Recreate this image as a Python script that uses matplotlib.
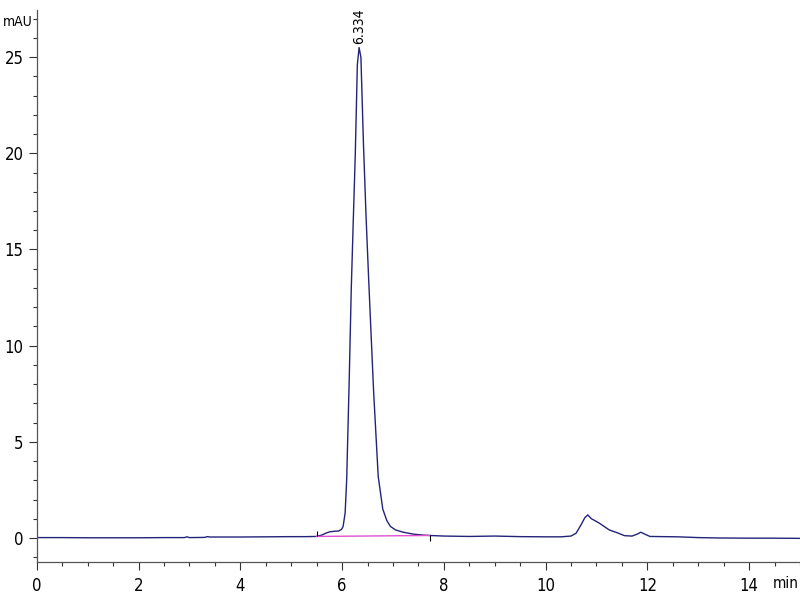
import matplotlib
matplotlib.use("Agg")
import matplotlib.pyplot as plt
from matplotlib.ticker import MultipleLocator

plt.rcParams['font.family'] = ['Liberation Sans Narrow', 'DejaVu Sans']
plt.rcParams['font.stretch'] = 'condensed'

# chromatogram trace (min, mAU)
time = [0, 0.5, 1, 1.5, 2, 2.5, 2.9, 2.95, 3.0, 3.3, 3.35, 3.4, 4, 4.5, 5, 5.3,
        5.5, 5.6, 5.7, 5.76, 5.85, 5.93, 5.99, 6.02, 6.06, 6.09, 6.14, 6.18, 6.22,
        6.26, 6.3, 6.334, 6.37, 6.42, 6.47, 6.52, 6.57, 6.62, 6.71, 6.8, 6.88,
        6.95, 7.05, 7.2, 7.4, 7.6, 7.72, 8.0, 8.5, 9.0, 9.5, 10.0, 10.3, 10.5,
        10.6, 10.7, 10.77, 10.83, 10.9, 10.97, 11.05, 11.15, 11.25, 11.4, 11.55,
        11.7, 11.8, 11.87, 11.95, 12.05, 12.3, 12.6, 13.0, 13.4, 14, 14.5, 15]
signal = [0.02, 0.02, 0.01, 0.01, 0.01, 0.02, 0.02, 0.06, 0.02, 0.03, 0.07, 0.05,
          0.05, 0.06, 0.07, 0.07, 0.08, 0.15, 0.27, 0.32, 0.35, 0.36, 0.45, 0.6,
          1.3, 3.0, 8.2, 12.9, 16.5, 20.0, 24.6, 25.5, 25.0, 20.5, 16.8, 13.6,
          10.6, 7.6, 3.2, 1.5, 0.9, 0.6, 0.42, 0.3, 0.2, 0.15, 0.13, 0.1, 0.08,
          0.1, 0.07, 0.06, 0.06, 0.1, 0.25, 0.7, 1.05, 1.2, 1.0, 0.9, 0.78, 0.6,
          0.42, 0.28, 0.12, 0.1, 0.2, 0.3, 0.2, 0.08, 0.07, 0.06, 0.02, 0.0,
          -0.01, -0.01, -0.02]

# integration baseline of the main peak
base_t = [5.5, 7.72]
base_y = [0.08, 0.13]
peak_rt = 6.334
peak_h = 25.6

fig = plt.figure(figsize=(8, 6), dpi=100)
ax = fig.add_axes([0.046, 0.0633, 0.954, 0.92])

ax.plot(time, signal, color='#23237a', lw=1.0)
ax.plot(base_t, base_y, color='#e050d0', lw=1.0)
ax.vlines(base_t[0], base_y[0], base_y[0] + 0.3, color='black', lw=0.8)
ax.vlines(base_t[1], base_y[1] - 0.3, base_y[1], color='black', lw=0.8)
ax.text(peak_rt, peak_h + 0.1, '%.3f' % peak_rt, rotation=90, ha='center',
        va='bottom', fontsize=10)

ax.set_xlim(0, 15)
ax.set_ylim(-1.25, 27.45)
ax.xaxis.set_major_locator(MultipleLocator(2))
ax.xaxis.set_minor_locator(MultipleLocator(0.5))
ax.yaxis.set_major_locator(MultipleLocator(5))
ax.yaxis.set_minor_locator(MultipleLocator(1))
ax.tick_params(which='major', length=6, width=0.8, labelsize=12, color='#333333')
ax.tick_params(which='minor', length=3, width=0.8, color='#333333')
ax.tick_params(axis='x', pad=5)

for s in ['top', 'right']:
    ax.spines[s].set_visible(False)
for s in ['left', 'bottom']:
    ax.spines[s].set_color('#555555')
    ax.spines[s].set_linewidth(0.9)

fig.text(0.003, 1 - 22 / 600, 'mAU', ha='left', va='center', fontsize=10)
fig.text(0.998, 1 - 583 / 600, 'min', ha='right', va='center', fontsize=11)

fig.savefig('out.png', dpi=100)
